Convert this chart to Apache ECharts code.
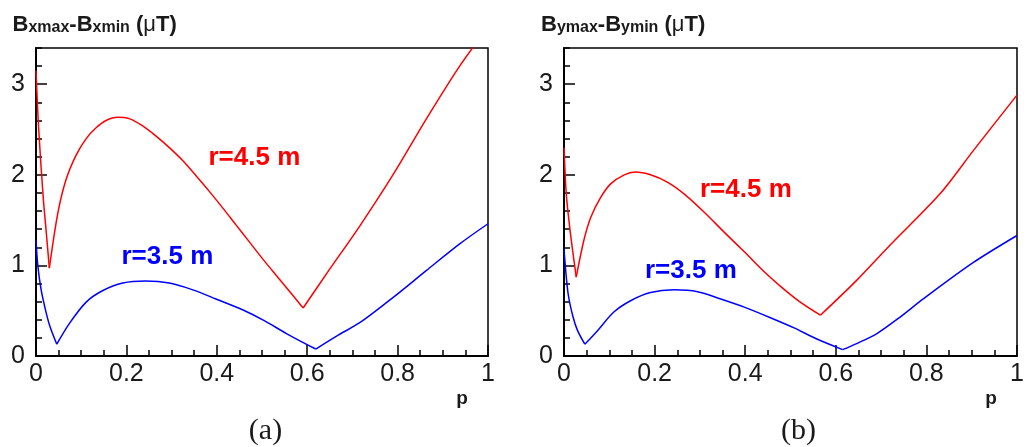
<!DOCTYPE html>
<html><head><meta charset="utf-8">
<script src="https://cdn.jsdelivr.net/npm/echarts@6/dist/echarts.min.js"></script>
<style>html,body{margin:0;padding:0;background:#fff}#c{width:1029px;height:447px}</style>
</head><body><div id="c"></div>
<script>
// ---- data ----
const xTickLabels = ['0', '0.2', '0.4', '0.6', '0.8', '1'];
const yTickLabels = ['0', '1', '2', '3'];

// panel (a): Bxmax - Bxmin
const pA_r45 = [0, 0.006, 0.016, 0.023, 0.0295, 0.048, 0.066, 0.088, 0.111, 0.133, 0.155, 0.181, 0.206, 0.236, 0.265, 0.295, 0.324, 0.354, 0.383, 0.413, 0.442, 0.472, 0.505, 0.54, 0.591, 0.643, 0.717, 0.791, 0.864, 0.938, 1.0];
const vA_r45 = [3.15, 2.5, 1.75, 1.35, 0.97, 1.57, 1.94, 2.21, 2.40, 2.52, 2.60, 2.635, 2.62, 2.54, 2.43, 2.30, 2.16, 1.99, 1.82, 1.635, 1.45, 1.26, 1.05, 0.84, 0.53, 0.91, 1.44, 2.01, 2.62, 3.205, 3.63];
const pA_r35 = [0, 0.004, 0.011, 0.02, 0.03, 0.046, 0.074, 0.111, 0.147, 0.192, 0.243, 0.295, 0.347, 0.398, 0.457, 0.505, 0.555, 0.619, 0.665, 0.717, 0.791, 0.864, 0.938, 1.0];
const vA_r35 = [1.28, 1.0, 0.74, 0.53, 0.34, 0.13, 0.36, 0.595, 0.72, 0.805, 0.827, 0.805, 0.73, 0.63, 0.51, 0.39, 0.245, 0.077, 0.22, 0.37, 0.65, 0.945, 1.24, 1.46];

// panel (b): Bymax - Bymin
const pB_r45 = [0, 0.005, 0.0126, 0.022, 0.027, 0.044, 0.059, 0.081, 0.103, 0.133, 0.158, 0.191, 0.228, 0.265, 0.309, 0.353, 0.398, 0.442, 0.48, 0.52, 0.566, 0.646, 0.719, 0.830, 0.904, 1.0];
const vB_r45 = [2.30, 1.79, 1.42, 1.055, 0.87, 1.28, 1.53, 1.75, 1.90, 2.0, 2.03, 2.0, 1.92, 1.79, 1.59, 1.37, 1.15, 0.93, 0.76, 0.6, 0.45, 0.835, 1.22, 1.79, 2.27, 2.88];
const pB_r35 = [0, 0.009, 0.02, 0.03, 0.046, 0.074, 0.110, 0.147, 0.191, 0.243, 0.295, 0.346, 0.398, 0.457, 0.508, 0.557, 0.615, 0.646, 0.690, 0.742, 0.793, 0.903, 1.0];
const vB_r35 = [1.18, 0.69, 0.43, 0.28, 0.13, 0.28, 0.485, 0.61, 0.70, 0.73, 0.71, 0.63, 0.54, 0.42, 0.31, 0.19, 0.07, 0.137, 0.245, 0.43, 0.63, 1.03, 1.33];

const curveNames = ['r=4.5 m', 'r=3.5 m'];
// ------------------------------------

const RED = '#ff0000', BLUE = '#0000ff', INK = '#1a1a1a';

function segments(ps, vs) {
  // split at local minima (the cusps) so each smooth piece keeps a sharp vertex
  const segs = []; let cur = [[ps[0], vs[0]]];
  for (let i = 1; i < ps.length; i++) {
    cur.push([ps[i], vs[i]]);
    if (i < ps.length - 1 && vs[i] < vs[i - 1] && vs[i] < vs[i + 1]) {
      segs.push(cur); cur = [[ps[i], vs[i]]];
    }
  }
  segs.push(cur);
  return segs;
}

const series = [];
function addCurve(ps, vs, color, grid) {
  segments(ps, vs).forEach(seg => series.push({
    type: 'line', xAxisIndex: grid, yAxisIndex: grid * 2, data: seg,
    smooth: 0.3, showSymbol: false, silent: true,
    lineStyle: { color: color, width: 1.5 }, clip: true, animation: false
  }));
}
addCurve(pA_r45, vA_r45, RED, 0);
addCurve(pA_r35, vA_r35, BLUE, 0);
addCurve(pB_r45, vB_r45, RED, 1);
addCurve(pB_r35, vB_r35, BLUE, 1);

const grids = [
  { left: 36, top: 48, width: 452, height: 308 },
  { left: 564, top: 48, width: 453, height: 308 }
].map(g => Object.assign(g, { show: true, borderColor: '#000', borderWidth: 1.5, backgroundColor: 'transparent' }));

function fmtX(v) {
  const i = Math.round(v / 0.2);
  return (Math.abs(v - i * 0.2) < 1e-6 && xTickLabels[i] !== undefined) ? xTickLabels[i] : '';
}
function fmtY(v) {
  const i = Math.round(v);
  return (Math.abs(v - i) < 1e-6 && yTickLabels[i] !== undefined) ? yTickLabels[i] : '';
}

const xAxes = [0, 1].map(g => ({
  type: 'value', gridIndex: g, min: 0, max: 1, interval: 0.2,
  axisLine: { show: true, onZero: false, lineStyle: { color: '#000', width: 2 } },
  axisTick: { show: true, inside: true, length: 11, lineStyle: { color: '#000', width: 1.5 } },
  minorTick: { show: true, splitNumber: 4, length: 6, lineStyle: { color: '#000', width: 1.5 } },
  splitLine: { show: false }, minorSplitLine: { show: false },
  axisLabel: { show: true, margin: 6, fontSize: 25, fontFamily: 'Liberation Sans, Arial, sans-serif', color: INK, formatter: fmtX, showMinLabel: true, showMaxLabel: true }
}));

const yAxes = [];
[0, 1].forEach(g => {
  yAxes.push({
    type: 'value', gridIndex: g, min: 0, max: 3.4, interval: 1, position: 'left',
    axisLine: { show: true, onZero: false, lineStyle: { color: '#000', width: 2 } },
    axisTick: { show: true, inside: true, length: 11, lineStyle: { color: '#000', width: 1.5 } },
    splitLine: { show: false },
    axisLabel: { show: true, margin: 11, fontSize: 25, fontFamily: 'Liberation Sans, Arial, sans-serif', color: INK, formatter: fmtY, showMaxLabel: false }
  });
  yAxes.push({
    type: 'value', gridIndex: g, min: 0, max: 3.4, interval: 0.2, position: 'left',
    axisLine: { show: false },
    axisTick: { show: true, inside: true, length: 6, lineStyle: { color: '#000', width: 1.5 } },
    splitLine: { show: false }, axisLabel: { show: false }
  });
});

const SANS = 'Liberation Sans, Arial, sans-serif';
function titleText(sub1, sub2) {
  return '{b|B}{s|' + sub1 + '}{b|-B}{s|' + sub2 + '}{b| (}{m|\u03BC}{b|T)}';
}
const titleRich = {
  b: { fontSize: 22, fontWeight: 'bold', fontFamily: SANS, fill: INK, lineHeight: 26, verticalAlign: 'bottom' },
  s: { fontSize: 16, fontWeight: 'bold', fontFamily: SANS, fill: INK, lineHeight: 6, verticalAlign: 'bottom' },
  m: { fontSize: 22, fontWeight: 'normal', fontFamily: SANS, fill: INK, lineHeight: 26, verticalAlign: 'bottom' }
};

const graphic = [
  { type: 'text', x: 12.5, y: 10, silent: true, style: { text: titleText('xmax', 'xmin'), rich: titleRich, fill: INK } },
  { type: 'text', x: 541, y: 10, silent: true, style: { text: titleText('ymax', 'ymin'), rich: titleRich, fill: INK } },
  { type: 'text', x: 462, y: 399, silent: true, style: { text: 'p', font: 'bold 19px ' + SANS, fill: INK, align: 'center', verticalAlign: 'middle' } },
  { type: 'text', x: 991, y: 399, silent: true, style: { text: 'p', font: 'bold 19px ' + SANS, fill: INK, align: 'center', verticalAlign: 'middle' } },
  { type: 'text', x: 265.5, y: 431, silent: true, style: { text: '(a)', font: '30px Liberation Serif, Times New Roman, serif', fill: INK, align: 'center', verticalAlign: 'middle' } },
  { type: 'text', x: 798.5, y: 431, silent: true, style: { text: '(b)', font: '30px Liberation Serif, Times New Roman, serif', fill: INK, align: 'center', verticalAlign: 'middle' } },
  { type: 'text', x: 208.5, y: 157.5, silent: true, style: { text: curveNames[0], font: 'bold 26px ' + SANS, fill: RED, align: 'left', verticalAlign: 'middle' } },
  { type: 'text', x: 121.5, y: 257, silent: true, style: { text: curveNames[1], font: 'bold 26px ' + SANS, fill: BLUE, align: 'left', verticalAlign: 'middle' } },
  { type: 'text', x: 700, y: 190, silent: true, style: { text: curveNames[0], font: 'bold 26px ' + SANS, fill: RED, align: 'left', verticalAlign: 'middle' } },
  { type: 'text', x: 645, y: 271, silent: true, style: { text: curveNames[1], font: 'bold 26px ' + SANS, fill: BLUE, align: 'left', verticalAlign: 'middle' } }
];

const chart = echarts.init(document.getElementById('c'), null, { renderer: 'canvas' });
chart.setOption({
  animation: false,
  backgroundColor: '#fff',
  grid: grids, xAxis: xAxes, yAxis: yAxes, series: series, graphic: graphic
});
</script>
</body></html>
